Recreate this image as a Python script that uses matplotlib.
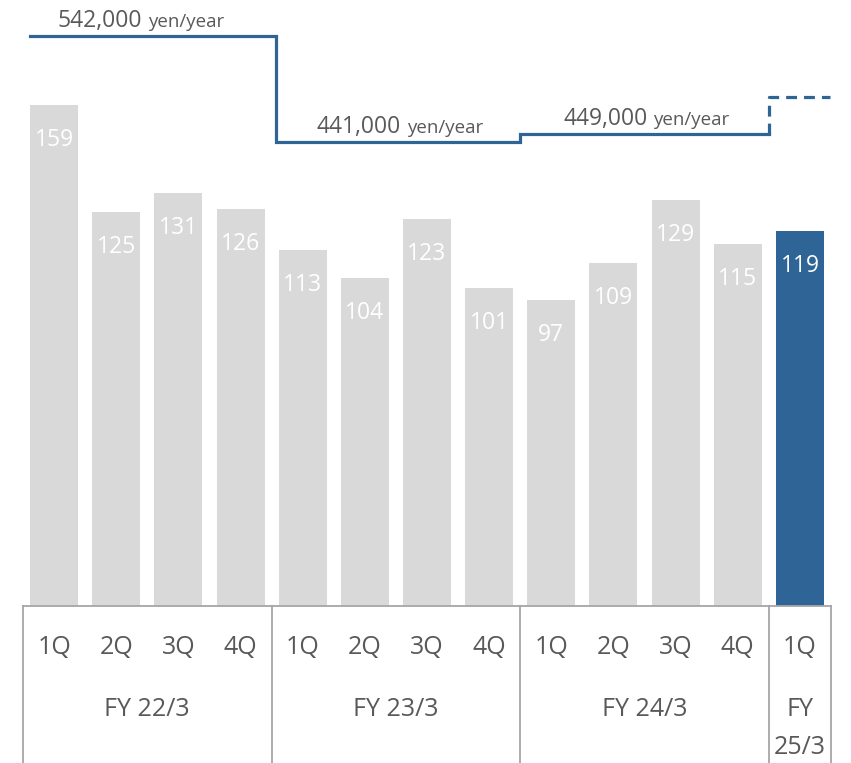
import matplotlib
matplotlib.use("Agg")
import matplotlib.pyplot as plt
import matplotlib.transforms as mtransforms

plt.rcParams['font.family'] = ['Open Sans', 'DejaVu Sans']

# ---- data ----
quarters = ["1Q", "2Q", "3Q", "4Q", "1Q", "2Q", "3Q", "4Q", "1Q", "2Q", "3Q", "4Q", "1Q"]
values = [159, 125, 131, 126, 113, 104, 123, 101, 97, 109, 129, 115, 119]
fiscal_years = ["FY 22/3", "FY 23/3", "FY 24/3", "FY\n25/3"]
fy_bounds = [0, 4, 8, 12, 13]
fee_values = [542, 441, 449]
fee_labels = ["542,000", "441,000", "449,000"]
fee_edges = [0.11, 4.07, 8.0, 12.0]
fee_forecast = 484
fee_label_x = [1.96, 6.13, 10.09]

W, H = 851, 763
fig = plt.figure(figsize=(W / 100, H / 100), dpi=100)
ax_left, ax_right = 23, 831
base_y = 606
ax = fig.add_axes([ax_left / W, (H - base_y) / H, (ax_right - ax_left) / W, base_y / H])
ax.set_xlim(0, len(values))
ax.set_ylim(0, base_y / 3.15)
ax.axis('off')

grey = '#d9d9d9'
blue = '#2e6496'
txt = '#595959'
xs = [i + 0.5 for i in range(len(values))]
colors = [grey] * (len(values) - 1) + [blue]
ax.bar(xs, values, width=0.772, color=colors, zorder=2)

for x, v in zip(xs, values):
    ax.annotate(str(v), xy=(x, v), xytext=(0, -25.2), textcoords='offset points',
                ha='center', va='center', color='white', fontsize=16.5, zorder=3)

# category axis
trans = mtransforms.blended_transform_factory(ax.transData, ax.transAxes)
line_c = '#a6a6a6'
ax.plot([0, len(values)], [0, 0], transform=trans, color=line_c, lw=1.3, clip_on=False, zorder=4)
for b in fy_bounds:
    ax.plot([b, b], [0, -0.27], transform=trans, color=line_c, lw=1.3, clip_on=False, zorder=4)

q_y = -42 / base_y
for x, q in zip(xs, quarters):
    ax.text(x, q_y, q, transform=trans, ha='center', va='center', color=txt, fontsize=18)

fy_y = -103 / base_y
for i, fy in enumerate(fiscal_years):
    cx = (fy_bounds[i] + fy_bounds[i + 1]) / 2
    if '\n' in fy:
        a, b = fy.split('\n')
        ax.text(cx, fy_y, a, transform=trans, ha='center', va='center', color=txt, fontsize=18)
        ax.text(cx, fy_y - 38 / base_y, b, transform=trans, ha='center', va='center', color=txt, fontsize=18)
    else:
        ax.text(cx, fy_y, fy, transform=trans, ha='center', va='center', color=txt, fontsize=18)

# step line on secondary scale
ax2 = ax.twinx()
ax2.set_ylim(-1.1, 576.3)
ax2.axis('off')
ax2.set_xlim(0, len(values))
line_blue = '#2f6497'
step_x = fee_edges
step_y = fee_values + [fee_values[-1]]
ax2.step(step_x, step_y, where='post', color=line_blue, lw=2.3, solid_joinstyle='miter', clip_on=False)
ax2.plot([fee_edges[-1], fee_edges[-1], len(values) - 0.02],
         [fee_values[-1], fee_forecast, fee_forecast],
         color=line_blue, lw=2.3, linestyle=(0, (3.4, 2.2)), clip_on=False)

for x, v, lab in zip(fee_label_x, fee_values, fee_labels):
    ax2.annotate(lab, xy=(x, v), xytext=(-2, 6.5), textcoords='offset points',
                 ha='right', va='baseline', color=txt, fontsize=16.5)
    ax2.annotate('yen/year', xy=(x, v), xytext=(2, 6.5), textcoords='offset points',
                 ha='left', va='baseline', color=txt, fontsize=13.5)

fig.savefig('out.png', dpi=100)
